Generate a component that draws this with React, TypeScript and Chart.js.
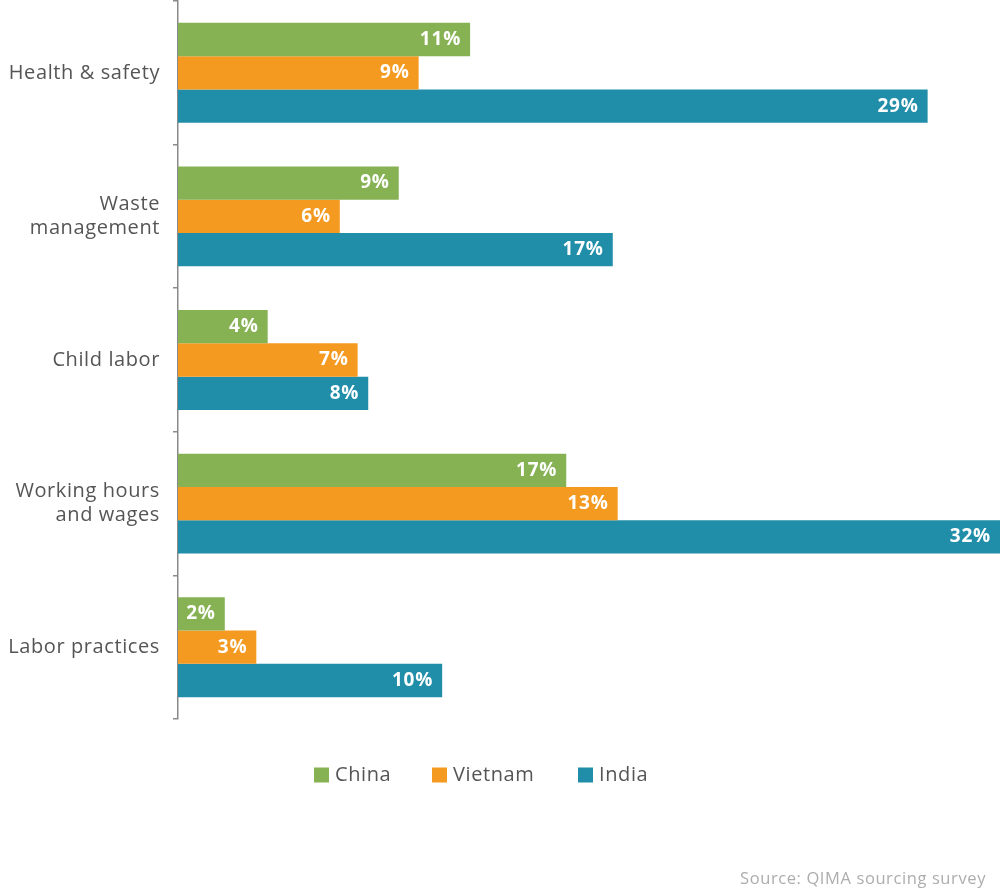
import React, { useEffect, useRef } from 'react';
import { Chart, registerables } from 'chart.js';

Chart.register(...registerables);

const categories: (string | string[])[] = [
  'Health & safety',
  ['Waste', 'management'],
  'Child labor',
  ['Working hours', 'and wages'],
  'Labor practices',
];

const seriesNames = ['China', 'Vietnam', 'India'];

// bar lengths (in % units)
const chinaValues = [11.3, 8.54, 3.47, 15.02, 1.81];
const vietnamValues = [9.31, 6.26, 6.95, 17.01, 3.03];
const indiaValues = [29.0, 16.82, 7.36, 31.8, 10.22];

// printed labels
const chinaLabels = ['11%', '9%', '4%', '17%', '2%'];
const vietnamLabels = ['9%', '6%', '7%', '13%', '3%'];
const indiaLabels = ['29%', '17%', '8%', '32%', '10%'];

const seriesColors = ['#86B254', '#F49A21', '#218EA9'];
const sourceText = 'Source: QIMA sourcing survey';

const FONT = "'Open Sans', sans-serif";

export default function App() {
  const canvasRef = useRef<HTMLCanvasElement | null>(null);

  useEffect(() => {
    if (!canvasRef.current) return;
    const valueSets = [chinaValues, vietnamValues, indiaValues];
    const labelSets = [chinaLabels, vietnamLabels, indiaLabels];

    const spacingPlugin = {
      id: 'spacing',
      beforeDraw(chart: any) {
        chart.ctx.letterSpacing = '0.6px';
      },
      afterDraw(chart: any) {
        chart.ctx.letterSpacing = '0px';
      },
    };

    const barLabelPlugin = {
      id: 'barLabels',
      afterDatasetsDraw(chart: any) {
        const ctx = chart.ctx;
        ctx.save();
        ctx.letterSpacing = '0.8px';
        ctx.font = `bold 19px ${FONT}`;
        ctx.fillStyle = '#ffffff';
        ctx.textAlign = 'right';
        ctx.textBaseline = 'middle';
        chart.data.datasets.forEach((_ds: any, i: number) => {
          const meta = chart.getDatasetMeta(i);
          meta.data.forEach((el: any, j: number) => {
            ctx.fillText(labelSets[i][j], el.x - 9, el.y);
          });
        });
        ctx.restore();
      },
    };

    const legendSourcePlugin = {
      id: 'legendSource',
      afterDraw(chart: any) {
        const ctx = chart.ctx;
        ctx.save();
        ctx.letterSpacing = '0.6px';
        ctx.font = `20px ${FONT}`;
        ctx.textBaseline = 'middle';
        ctx.textAlign = 'left';
        const boxX = [314, 432, 578];
        const yc = 775;
        seriesNames.forEach((name, i) => {
          const x = boxX[i];
          ctx.fillStyle = seriesColors[i];
          ctx.fillRect(x, yc - 7.5, 15, 15);
          ctx.fillStyle = '#555555';
          ctx.fillText(name, x + 21, yc);
        });
        ctx.font = `16.5px ${FONT}`;
        ctx.fillStyle = '#adadad';
        ctx.textAlign = 'right';
        ctx.textBaseline = 'alphabetic';
        ctx.fillText(sourceText, 986, 884);
        ctx.restore();
      },
    };

    const chart = new Chart(canvasRef.current, {
      type: 'bar',
      data: {
        labels: categories,
        datasets: seriesNames.map((name, i) => ({
          label: name,
          data: valueSets[i],
          backgroundColor: seriesColors[i],
          borderWidth: 0,
          barPercentage: 1,
          categoryPercentage: 0.696,
        })),
      },
      options: {
        indexAxis: 'y',
        responsive: false,
        animation: false,
        layout: { padding: { top: 1, bottom: 171, left: 0, right: 0 } },
        plugins: {
          legend: { display: false },
          tooltip: { enabled: false },
        },
        scales: {
          x: {
            display: false,
            min: 0,
            max: 31.8,
          },
          y: {
            afterFit(scale: any) {
              scale.width = 178;
              scale.paddingTop = 0;
              scale.paddingBottom = 0;
            },
            grid: {
              display: true,
              offset: true,
              drawOnChartArea: false,
              drawTicks: true,
              tickLength: 5,
              color: '#8a8a8a',
              lineWidth: 1.5,
            },
            border: { display: true, color: '#8a8a8a', width: 1.5 },
            ticks: {
              color: '#555555',
              padding: 13,
              font: { family: FONT, size: 20, lineHeight: 1.2 },
            },
          },
        },
      },
      plugins: [spacingPlugin, barLabelPlugin, legendSourcePlugin],
    });
    return () => chart.destroy();
  }, []);

  return (
    <div style={{ position: 'absolute', left: 0, top: 0, width: 1000, height: 890, background: '#ffffff' }}>
      <canvas ref={canvasRef} width={1000} height={890} style={{ display: 'block' }} />
    </div>
  );
}
